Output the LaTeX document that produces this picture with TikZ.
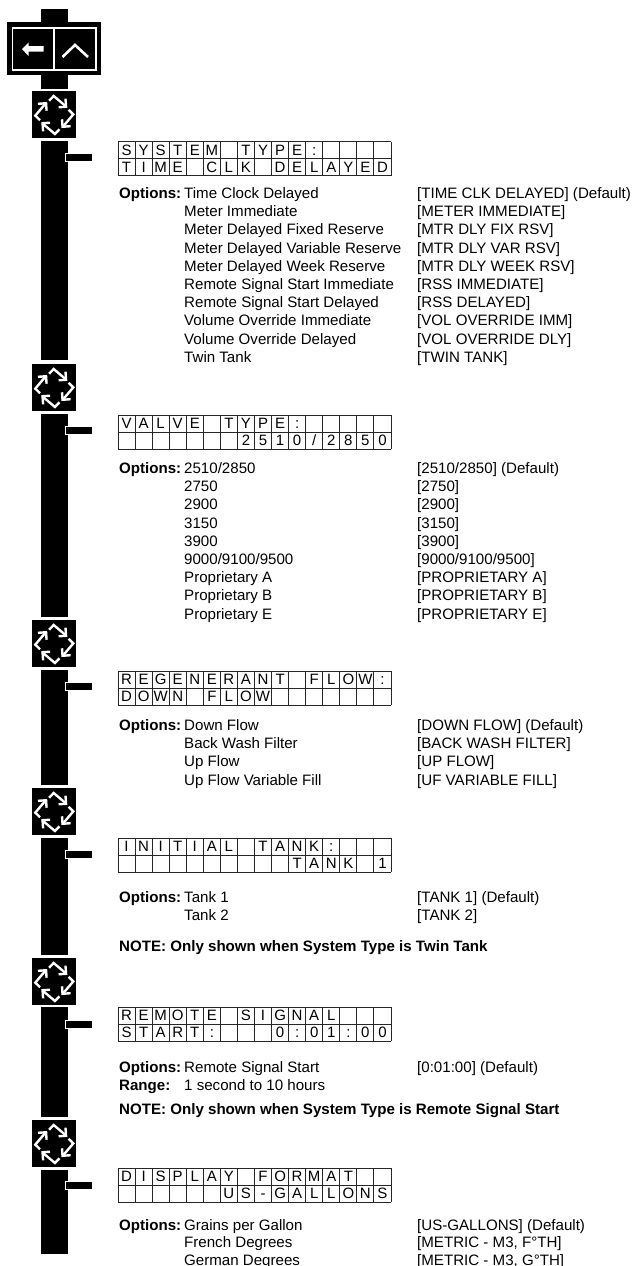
\documentclass[tikz,border=0pt]{standalone}
\usepackage{fontspec}
\setmainfont{Liberation Sans}
\tikzset{
  barfill/.style={fill=black,draw=none},
  lcdgrid/.style={draw=black!85,line width=0.9pt},
  lcdchar/.style={inner sep=0pt,font=\fontsize{15}{15}\selectfont,text height=10.7pt,text depth=0pt},
  optlabel/.style={anchor=base west,inner sep=0pt,font=\fontsize{15.1}{15}\selectfont},
  optbold/.style={optlabel,font=\fontsize{15.1}{15}\selectfont\bfseries},
  iconline/.style={draw=white,line width=2.4pt,line cap=butt,line join=miter}
}
\newcommand{\cycleicon}[1]{%
  \begin{scope}[shift={(0,#1)}]
    \fill (32,0) rectangle (76,47);
    \foreach \a in {0,90,180,270}{
      \begin{scope}[shift={(54.3,24)},rotate=\a+4]
        \draw[iconline] (-4.2,-14.6) -- (0.7,-19) -- (12,-8);
        \draw[iconline] (12.3,-15.5) -- (12.3,-7.4) -- (4.8,-7.4);
      \end{scope}
    }
  \end{scope}}
\newcommand{\colbar}[3]{%
  \fill (41,#1) rectangle (68,#2);
  \fill[draw=white,line width=0.7pt] (65,#3-4) rectangle (92.5,#3+4);
}
\newcommand{\lcd}[3]{% top y, row1, row2
  \begin{scope}[shift={(118,#1)}]
    \foreach \k in {0,...,16} \draw[lcdgrid] ({\k*17.0625},0) -- ({\k*17.0625},34);
    \foreach \k in {0,1,2} \draw[lcdgrid] (0,{\k*17}) -- (273,{\k*17});
    \foreach \c [count=\i from 0] in {#2}
      \node[lcdchar] at ({(\i+.5)*17.0625},8.5) {\c};
    \foreach \c [count=\i from 0] in {#3}
      \node[lcdchar] at ({(\i+.5)*17.0625},25.5) {\c};
  \end{scope}}
\newcommand{\optrow}[3]{%
  \node[optlabel] at (184,#1) {#2};
  \node[optlabel] at (417,#1) {#3};}
\newcommand{\optlead}[1]{\node[optbold] at (119,#1) {Options:};}
\begin{document}
\begin{tikzpicture}[x=1pt,y=-1pt]
\useasboundingbox (0,0) rectangle (633,1266);
\clip (0,0) rectangle (633,1266);
% head
\fill (41,9) rectangle (68,89);
\fill (7,22) rectangle (100.5,75);
\draw[white,line width=1.3pt] (12.5,28) rectangle (96,70);
\draw[white,line width=1.3pt] (54,28) -- (54,70);
\fill[white] (22,49) -- (28.5,42.5) -- (28.5,46.2) -- (43.5,46.2) -- (43.5,51.7) -- (28.5,51.7) -- (28.5,56) -- cycle;
\draw[white,line width=2.6pt] (62.5,57) -- (75,45) -- (88,57);
% icons and bars
\cycleicon{91}\cycleicon{364}\cycleicon{620}\cycleicon{788}\cycleicon{958}\cycleicon{1120}
\colbar{141}{360}{157.5}
\colbar{414}{617}{430.5}
\colbar{670}{785}{686.5}
\colbar{838}{955}{854.5}
\colbar{1007}{1117}{1024.5}
\colbar{1170}{1254}{1185.5}
% system type
\lcd{141.5}{S,Y,S,T,E,M, ,T,Y,P,E,:, , , , }{T,I,M,E, ,C,L,K, ,D,E,L,A,Y,E,D}
\optlead{198.5}
\optrow{198.5}{Time Clock Delayed}{[TIME CLK DELAYED] (Default)}
\optrow{216.7}{Meter Immediate}{[METER IMMEDIATE]}
\optrow{234.9}{Meter Delayed Fixed Reserve}{[MTR DLY FIX RSV]}
\optrow{253.1}{Meter Delayed Variable Reserve}{[MTR DLY VAR RSV]}
\optrow{271.3}{Meter Delayed Week Reserve}{[MTR DLY WEEK RSV]}
\optrow{289.5}{Remote Signal Start Immediate}{[RSS IMMEDIATE]}
\optrow{307.7}{Remote Signal Start Delayed}{[RSS DELAYED]}
\optrow{325.9}{Volume Override Immediate}{[VOL OVERRIDE IMM]}
\optrow{344.1}{Volume Override Delayed}{[VOL OVERRIDE DLY]}
\optrow{362.3}{Twin Tank}{[TWIN TANK]}
% valve
\lcd{415}{V,A,L,V,E, ,T,Y,P,E,:, , , , , }{ , , , , , , ,2,5,1,0,/,2,8,5,0}
\optlead{473.5}
\optrow{473.5}{2510/2850}{[2510/2850] (Default)}
\optrow{491.7}{2750}{[2750]}
\optrow{509.9}{2900}{[2900]}
\optrow{528.1}{3150}{[3150]}
\optrow{546.3}{3900}{[3900]}
\optrow{564.5}{9000/9100/9500}{[9000/9100/9500]}
\optrow{582.7}{Proprietary A}{[PROPRIETARY A]}
\optrow{600.9}{Proprietary B}{[PROPRIETARY B]}
\optrow{619.1}{Proprietary E}{[PROPRIETARY E]}
% regen
\lcd{671}{R,E,G,E,N,E,R,A,N,T, ,F,L,O,W,:}{D,O,W,N, ,F,L,O,W, , , , , , , }
\optlead{730.5}
\optrow{730.5}{Down Flow}{[DOWN FLOW] (Default)}
\optrow{748.7}{Back Wash Filter}{[BACK WASH FILTER]}
\optrow{766.9}{Up Flow}{[UP FLOW]}
\optrow{785.1}{Up Flow Variable Fill}{[UF VARIABLE FILL]}
% initial
\lcd{838}{I,N,I,T,I,A,L, ,T,A,N,K,:, , , }{ , , , , , , , , , ,T,A,N,K, ,1}
\optlead{902.5}
\optrow{902.5}{Tank 1}{[TANK 1] (Default)}
\optrow{920.5}{Tank 2}{[TANK 2]}
\node[optbold] at (119,951) {NOTE: Only shown when System Type is Twin Tank};
% remote
\lcd{1007}{R,E,M,O,T,E, ,S,I,G,N,A,L, , , }{S,T,A,R,T,:, , , ,0,:,0,1,:,0,0}
\optlead{1072.5}
\optrow{1072.5}{Remote Signal Start}{[0:01:00] (Default)}
\node[optbold] at (119,1090) {Range:};
\node[optlabel] at (184,1090) {1 second to 10 hours};
\node[optbold] at (119,1114.5) {NOTE: Only shown when System Type is Remote Signal Start};
% display
\lcd{1168}{D,I,S,P,L,A,Y, ,F,O,R,M,A,T, , }{ , , , , , ,U,S,-,G,A,L,L,O,N,S}
\optlead{1230}
\optrow{1230}{Grains per Gallon}{[US-GALLONS] (Default)}
\optrow{1247.5}{French Degrees}{[METRIC - M3, F°TH]}
\optrow{1265}{German Degrees}{[METRIC - M3, G°TH]}
\end{tikzpicture}
\end{document}
